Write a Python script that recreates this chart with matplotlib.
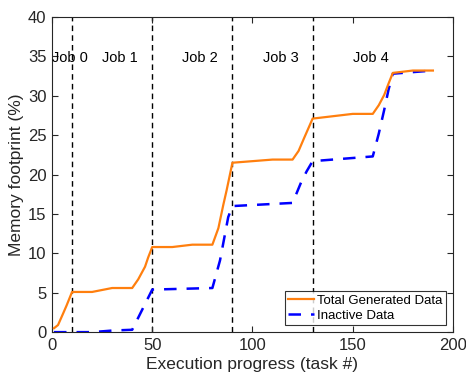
import matplotlib
matplotlib.use("Agg")
import matplotlib.pyplot as plt

plt.rcParams['font.family'] = ['Liberation Sans', 'DejaVu Sans']

# Total generated data (%) vs task number
total_x = [1, 3, 5.6, 7.3, 10, 20, 30, 40, 43, 46.4, 48, 50, 60, 70, 80, 83, 85.4, 87.1, 90,
           110, 120, 123, 125.7, 130, 150, 160, 163, 165.7, 167.8, 170, 180, 190]
total_y = [0.5, 0.9, 2.4, 3.4, 5.1, 5.1, 5.6, 5.6, 6.7, 8.3, 9.5, 10.8, 10.8, 11.1, 11.1, 13.2, 16.1, 18.0, 21.5,
           21.9, 21.9, 23.0, 24.6, 27.1, 27.7, 27.7, 28.8, 30.1, 31.5, 32.9, 33.2, 33.2]

# Inactive data (%) vs task number
inactive_x = [1, 10, 20, 30, 40, 50, 80, 83.8, 87.9, 90, 120, 124.4, 127, 130, 160,
              163, 165.7, 167.8, 170, 180, 190]
inactive_y = [0.0, 0.0, 0.0, 0.2, 0.3, 5.4, 5.6, 9.1, 14.6, 16.0, 16.4, 19.1, 20.4, 21.7, 22.3,
              25.2, 28.2, 30.7, 32.8, 33.0, 33.2]

job_bounds = [10, 50, 90, 130]
job_labels = ["Job 0", "Job 1", "Job 2", "Job 3", "Job 4"]
job_label_x = [9, 34, 74, 114, 159]

fig = plt.figure(figsize=(4.66, 3.77), dpi=100)
ax = fig.add_axes([0.1116, 0.119, 0.8604, 0.836])

axis_color = '#262626'
for b in job_bounds:
    ax.axvline(b, color='black', linestyle=(0, (4, 3)), linewidth=1.0, zorder=1)

ax.plot(total_x, total_y, color='#FF7F0E', linewidth=1.6, label='Total Generated Data', zorder=3)
ax.plot(inactive_x, inactive_y, color='#0000FF', linewidth=1.8, linestyle=(0, (5, 4)),
        label='Inactive Data', zorder=2)

for lx, lab in zip(job_label_x, job_labels):
    ax.text(lx, 34.8, lab, ha='center', va='center', fontsize=10.5, color='black')

ax.set_xlim(0, 200)
ax.set_ylim(0, 40)
ax.set_xticks([0, 50, 100, 150, 200])
ax.set_yticks([0, 5, 10, 15, 20, 25, 30, 35, 40])
ax.tick_params(direction='in', top=True, right=True, labelsize=12, colors=axis_color,
               length=4, width=0.8, pad=4)
for s in ax.spines.values():
    s.set_color(axis_color)
    s.set_linewidth(0.8)
ax.set_xlabel('Execution progress (task #)', fontsize=12.5, color=axis_color, labelpad=3)
ax.set_ylabel('Memory footprint (%)', fontsize=12.5, color=axis_color, labelpad=3)

leg = ax.legend(loc='lower right', fontsize=9.5, frameon=True, fancybox=False,
                edgecolor='black', handlelength=2.0, handletextpad=0.2,
                borderpad=0.25, labelspacing=0.2, borderaxespad=0.55)
leg.get_frame().set_linewidth(0.8)

fig.savefig('out.png', dpi=100)
